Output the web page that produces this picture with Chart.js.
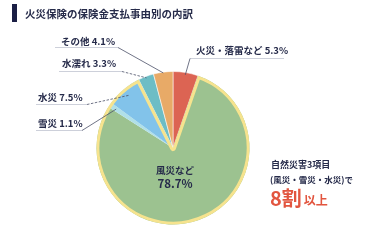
<!DOCTYPE html>
<html lang="ja">
<head>
<meta charset="utf-8">
<script src="https://cdn.jsdelivr.net/npm/chart.js@4/dist/chart.umd.min.js"></script>
<style>
  html, body { margin: 0; padding: 0; background: #fff; }
  canvas { display: block; }
</style>
</head>
<body>
<canvas id="pie_chart" width="378" height="247"></canvas>
<script>
// data, clockwise from 12 o'clock
const categories = ['火災・落雷など', '風災など', '雪災', '水災', '水濡れ', 'その他'];
const shares = [5.3, 78.7, 1.1, 7.5, 3.3, 4.1];
const sliceColors = ['#dc6453', '#9cc290', '#b0e0e8', '#82c3ea', '#6dbdc5', '#e8aa67'];
// natural disasters (風災・雪災・水災) get the yellow outline
const groupFirst = 1;
const groupLast = 3;

const title = '火災保険の保険金支払事由別の内訳';
const noteLines = ['自然災害3項目', '(風災・雪災・水災)で'];
const noteBig = '8割';
const noteSmall = '以上';

const navy = '#262b4a';
const jp = '"Noto Sans CJK JP", "Noto Sans", sans-serif';

// where the outside labels sit
const labelLayout = [
    {i: 0, tx: 196, ty: 50, ux0: 190, ux1: 284, uy: 58, side: 'left', r: 0.97},
    {i: 5, tx: 61, ty: 41, ux0: 55, ux1: 118, uy: 47, side: 'right', r: 0.99},
    {i: 4, tx: 62, ty: 63, ux0: 59, ux1: 122, uy: 71, side: 'right', r: 0.98, dash: true},
    {i: 3, tx: 38, ty: 97, ux0: 36, ux1: 87, uy: 104, side: 'right', r: 0.9, dash: true},
    {i: 2, tx: 38, ty: 123, ux0: 36, ux1: 82, uy: 130, side: 'right', r: 0.9},
];

const overlay = {
    id: 'overlay',
    afterDatasetsDraw(chart) {
        const ctx = chart.ctx;
        const arcs = chart.getDatasetMeta(0).data;
        const first = arcs[groupFirst];
        const last = arcs[groupLast];
        const cx = first.x, cy = first.y, R = first.outerRadius;

        // yellow outline round the group
        ctx.save();
        ctx.beginPath();
        ctx.moveTo(cx, cy);
        ctx.arc(cx, cy, R, first.startAngle, last.endAngle);
        ctx.closePath();
        ctx.clip();
        ctx.lineWidth = 6;
        ctx.lineJoin = 'round';
        ctx.strokeStyle = '#f6e38e';
        ctx.stroke();
        ctx.restore();

        // outside labels with leader lines
        ctx.save();
        ctx.textBaseline = 'middle';
        ctx.textAlign = 'left';
        labelLayout.forEach(l => {
            const a = arcs[l.i];
            const mid = (a.startAngle + a.endAngle) / 2;
            const px = cx + Math.cos(mid) * R * l.r;
            const py = cy + Math.sin(mid) * R * l.r;

            ctx.strokeStyle = '#cdd0da';
            ctx.lineWidth = 1;
            ctx.setLineDash([]);
            ctx.beginPath();
            ctx.moveTo(l.ux0, l.uy + 0.5);
            ctx.lineTo(l.ux1, l.uy + 0.5);
            ctx.stroke();

            ctx.strokeStyle = '#4b5068';
            ctx.lineWidth = 0.8;
            ctx.setLineDash(l.dash ? [2.5, 1.5] : []);
            ctx.beginPath();
            ctx.moveTo(l.side === 'right' ? l.ux1 : l.ux0, l.uy + 0.5);
            ctx.lineTo(px, py);
            ctx.stroke();

            ctx.fillStyle = navy;
            ctx.font = 'bold 9.5px ' + jp;
            ctx.fillText(categories[l.i] + ' ' + shares[l.i] + '%', l.tx, l.ty);
        });
        ctx.setLineDash([]);

        // label inside the big slice
        ctx.textAlign = 'center';
        ctx.fillStyle = navy;
        ctx.font = 'bold 9.5px ' + jp;
        ctx.fillText(categories[1], cx + 2, cy + 22);
        ctx.font = 'bold 11.5px ' + jp;
        ctx.fillText(shares[1] + '%', cx + 2, cy + 36);
        ctx.restore();
    }
};

const decor = {
    id: 'decor',
    afterDraw(chart) {
        const ctx = chart.ctx;
        ctx.save();
        ctx.fillStyle = '#1b1f45';
        ctx.fillRect(12, 4, 5, 18);
        ctx.textBaseline = 'middle';
        ctx.font = 'bold 10.5px ' + jp;
        ctx.fillStyle = navy;
        ctx.fillText(title, 25, 14);

        ctx.font = 'bold 9px ' + jp;
        ctx.fillText(noteLines[0], 271, 165);
        ctx.font = 'bold 8.5px ' + jp;
        ctx.fillText(noteLines[1], 270, 180);

        ctx.fillStyle = '#e2553f';
        ctx.font = 'bold 20px ' + jp;
        ctx.fillText(noteBig, 270, 198);
        const w = ctx.measureText(noteBig).width;
        ctx.font = 'bold 12px ' + jp;
        ctx.fillText(noteSmall, 270 + w + 2, 200);
        ctx.restore();
    }
};

new Chart(
    document.getElementById('pie_chart'),
    {
        type: 'pie',
        data: {
            labels: categories,
            datasets: [
                {
                    data: shares,
                    backgroundColor: sliceColors,
                    borderColor: 'rgba(255,255,255,0.55)',
                    borderWidth: [1, 0, 0, 0, 1, 1],
                },
            ]
        },
        options: {
            responsive: false,
            devicePixelRatio: 1,
            animation: false,
            layout: {
                padding: {left: 96, right: 128, top: 71, bottom: 22}
            },
            plugins: {
                legend: {display: false},
                tooltip: {enabled: false},
            },
        },
        plugins: [overlay, decor]
    }
);
</script>
</body>
</html>
